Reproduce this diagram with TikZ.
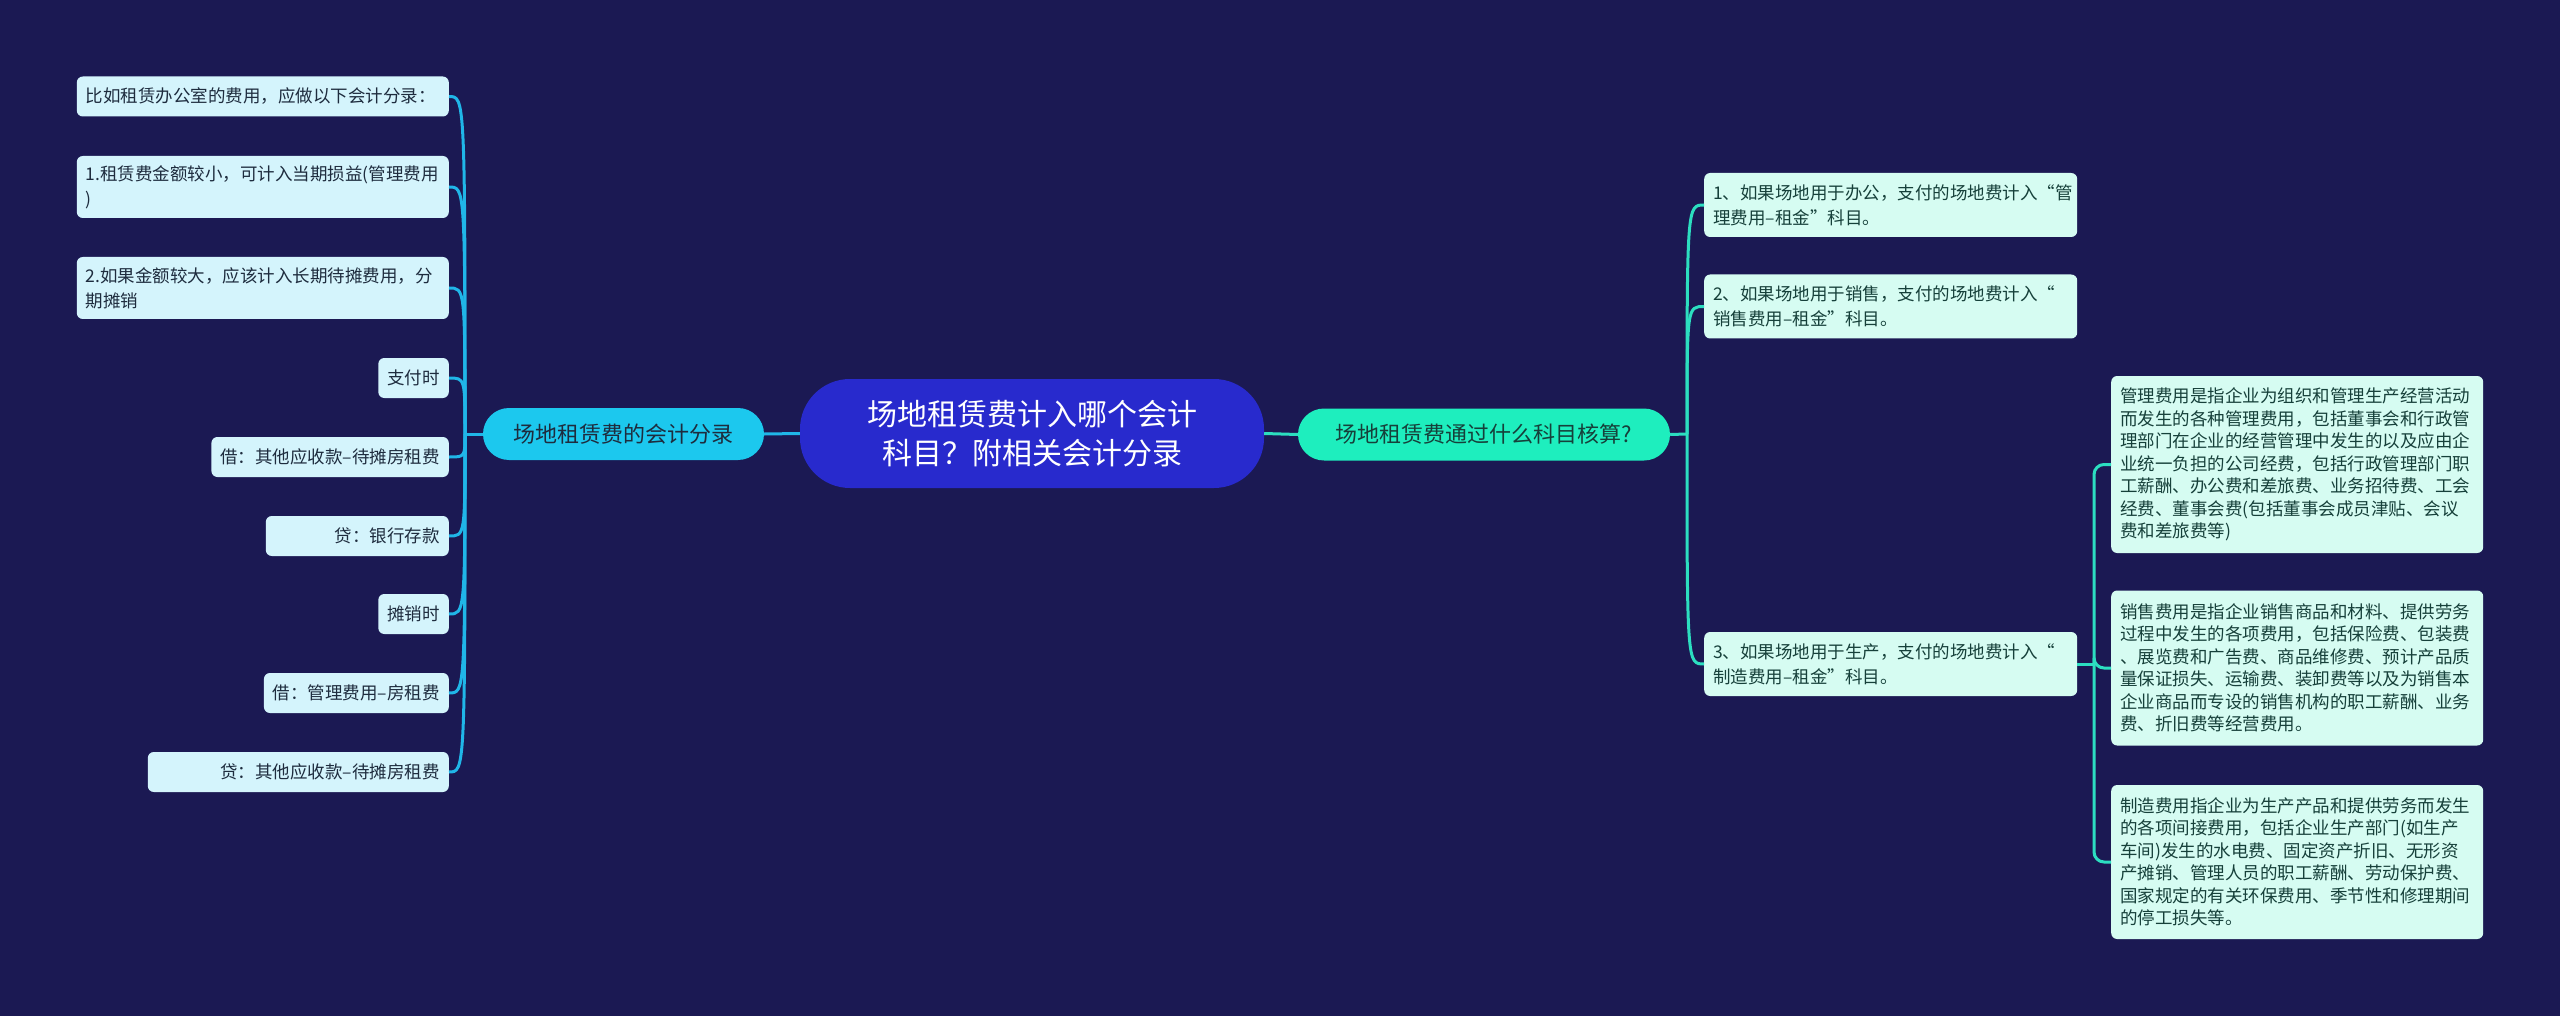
\documentclass[tikz,border=0pt]{standalone}
\usepackage{fontspec}
\setmainfont{Noto Sans CJK SC}
\usepackage{tikz}
\usetikzlibrary{calc, positioning}
\usepackage{xcolor}
\definecolor{bgnavy}{RGB}{27, 25, 83}
\definecolor{rootC}{RGB}{40, 42, 205}
\definecolor{topicL}{RGB}{28, 200, 238}
\definecolor{topicR}{RGB}{30, 238, 190}
\definecolor{leafL}{RGB}{212, 244, 252}
\definecolor{leafR}{RGB}{214, 252, 242}
\definecolor{lineL}{RGB}{32, 182, 232}
\definecolor{lineR}{RGB}{44, 222, 192}
\definecolor{inkL}{RGB}{30, 44, 62}
\definecolor{inkR}{RGB}{22, 64, 58}

\tikzset{
  leafl/.style={fill=leafL, text=inkL, rounded corners=6pt, anchor=east,
    inner xsep=9pt, inner ysep=0pt, minimum height=40pt,
    font=\fontsize{17.5}{25}\selectfont},
  leafr/.style={fill=leafR, text=inkR, rounded corners=6pt, anchor=west,
    inner xsep=9pt, inner ysep=0pt, minimum height=64pt, text width=355pt,
    align=left, font=\fontsize{17.5}{25}\selectfont},
  note/.style={leafr, text width=354pt, font=\fontsize{17.5}{22.5}\selectfont},
  topic/.style={rounded corners=26pt, minimum height=52pt, inner xsep=0pt,
    font=\fontsize{22}{28}\selectfont},
  link/.style={line width=3pt}
}

\begin{document}
\begin{tikzpicture}[x=1pt, y=-1pt]
  % background
  \fill[bgnavy] (0,0) rectangle (2560,1016);
  \useasboundingbox (0,0) rectangle (2560,1016);

  % root and topics
  \node[fill=rootC, text=white, rounded corners=50pt, minimum width=464pt,
    minimum height=109pt, align=center, font=\fontsize{30}{39}\selectfont]
    (root) at (1032,433.5) {场地租赁费计入哪个会计\\科目？附相关会计分录};
  \node[topic, fill=topicL, text=inkL, minimum width=281pt] (lmain) at (623.5,434) {场地租赁费的会计分录};
  \node[topic, fill=topicR, text=inkR, minimum width=372pt] (rmain) at (1484,434.5) {场地租赁费通过什么科目核算?};
  \draw[link, lineL] (root.west) -- (lmain.east);
  \draw[link, lineR] (root.east) -- (rmain.west);

  % left: entries
  \node[leafl, text width=354pt, align=left] (l1) at (449,96.5) {比如租赁办公室的费用，应做以下会计分录：};
  \node[leafl, minimum height=62pt, text width=354pt, align=left] (l2) at (449,187)
    {1.租赁费金额较小，可计入当期损益(管理费用\\)};
  \node[leafl, minimum height=62pt, text width=354pt, align=left] (l3) at (449,288)
    {2.如果金额较大，应该计入长期待摊费用，分\\期摊销};
  \node[leafl] (l4) at (449,378) {支付时};
  \node[leafl] (l5) at (449,457) {借：其他应收款–待摊房租费};
  \node[leafl, text width=165pt, align=right] (l6) at (449,536) {贷：银行存款};
  \node[leafl] (l7) at (449,614) {摊销时};
  \node[leafl] (l8) at (449,693) {借：管理费用–房租费};
  \node[leafl, text width=283pt, align=right] (l9) at (449,772) {贷：其他应收款–待摊房租费};

  \coordinate (jl) at (465,434);
  \draw[link, lineL] (lmain.west) -- (jl);
  \foreach \n in {l1,l2,l3,l4,l5,l6,l7,l8,l9}
    \draw[link, lineL] (jl) .. controls (jl |- \n.east) .. (\n.east);

  % right: accounts
  \node[leafr] (r1) at (1704,205) {1、如果场地用于办公，支付的场地费计入“管\\理费用–租金”科目。};
  \node[leafr] (r2) at (1704,306.5) {2、如果场地用于销售，支付的场地费计入“\\销售费用–租金”科目。};
  \node[leafr] (r3) at (1704,664) {3、如果场地用于生产，支付的场地费计入“\\制造费用–租金”科目。};

  \coordinate (jr) at (1687,434);
  \draw[link, lineR] (rmain.east) -- (jr);
  \foreach \n in {r1,r2,r3}
    \draw[link, lineR] (jr) .. controls (jr |- \n.west) .. (\n.west);

  % notes on r3
  \node[note, minimum height=177pt] (t1) at (2111,464.5)
    {管理费用是指企业为组织和管理生产经营活动\\而发生的各种管理费用，包括董事会和行政管\\理部门在企业的经营管理中发生的以及应由企\\业统一负担的公司经费，包括行政管理部门职\\工薪酬、办公费和差旅费、业务招待费、工会\\经费、董事会费(包括董事会成员津贴、会议\\费和差旅费等)};
  \node[note, minimum height=155pt] (t2) at (2111,668)
    {销售费用是指企业销售商品和材料、提供劳务\\过程中发生的各项费用，包括保险费、包装费\\、展览费和广告费、商品维修费、预计产品质\\量保证损失、运输费、装卸费等以及为销售本\\企业商品而专设的销售机构的职工薪酬、业务\\费、折旧费等经营费用。};
  \node[note, minimum height=154pt] (t3) at (2111,862)
    {制造费用指企业为生产产品和提供劳务而发生\\的各项间接费用，包括企业生产部门(如生产\\车间)发生的水电费、固定资产折旧、无形资\\产摊销、管理人员的职工薪酬、劳动保护费、\\国家规定的有关环保费用、季节性和修理期间\\的停工损失等。};

  \coordinate (jt) at (2094,664);
  \draw[link, lineR] (r3.east) -- (jt);
  \foreach \n in {t1,t2,t3}
    \draw[link, lineR, rounded corners=10pt] (jt) |- (\n.west);
\end{tikzpicture}
\end{document}
